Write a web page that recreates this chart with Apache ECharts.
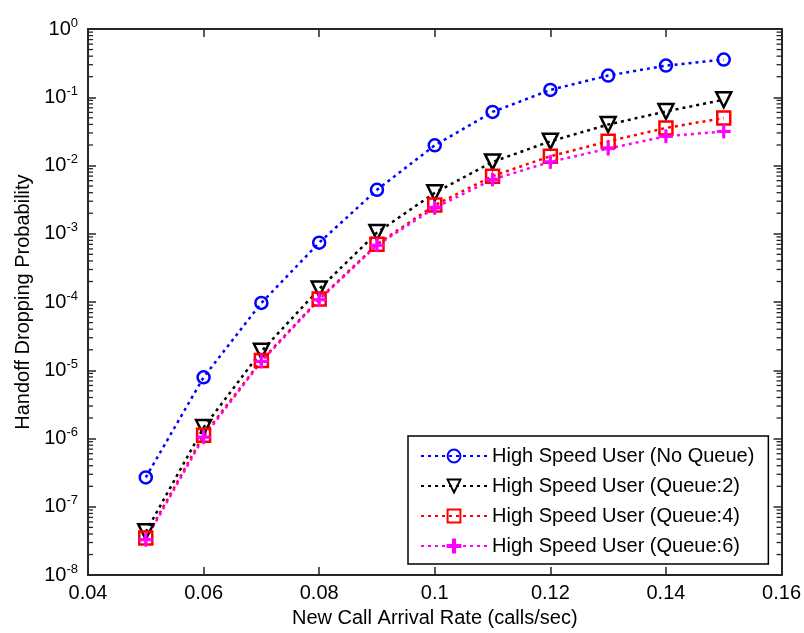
<!DOCTYPE html>
<html>
<head>
<meta charset="utf-8">
<script src="https://cdn.jsdelivr.net/npm/echarts@6/dist/echarts.min.js"></script>
<style>
  html, body { margin: 0; padding: 0; background: #fff; }
  #chart { width: 804px; height: 633px; }
</style>
</head>
<body>
<div id="chart"></div>
<script>
// arrival rate (calls/sec)
const arrivalRate = [0.05, 0.06, 0.07, 0.08, 0.09, 0.10, 0.11, 0.12, 0.13, 0.14, 0.15]

// handoff dropping probability
const noQueue = [2.7e-7, 7.9e-6, 9.7e-5, 7.4e-4, 4.4e-3, 0.0198, 0.061, 0.128, 0.208, 0.291, 0.356]
const queue2 = [4.3e-8, 1.45e-6, 1.9e-5, 1.55e-4, 1.04e-3, 3.98e-3, 0.0113, 0.0226, 0.0398, 0.062, 0.092]
const queue4 = [3.5e-8, 1.12e-6, 1.39e-5, 1.11e-4, 7.0e-4, 2.63e-3, 6.98e-3, 0.0137, 0.0226, 0.0355, 0.0497]
const queue6 = [3.3e-8, 1.05e-6, 1.35e-5, 1.08e-4, 6.8e-4, 2.4e-3, 6.25e-3, 0.0113, 0.0177, 0.0268, 0.0316]

const seriesNames = [
  'High Speed User (No Queue)',
  'High Speed User (Queue:2)',
  'High Speed User (Queue:4)',
  'High Speed User (Queue:6)'
]

// minor log ticks 2..9 in each decade
const minorTicks = []
for (let e = -8; e < 0; e++) {
  for (let m = 2; m <= 9; m++) minorTicks.push(m * Math.pow(10, e))
}

const axisColor = '#262626'
const font = 'Liberation Sans, Arial, sans-serif'
const plusPath = 'path://M5,0H7V5H12V7H7V12H5V7H0V5H5Z'

function pairs(ys) {
  return arrivalRate.map((x, i) => [x, ys[i]])
}

// hollow markers (line shows through), like matlab
function lineSeries(name, ys, color, symbol, size, rotate, filled) {
  return {
    name: name,
    type: 'line',
    data: pairs(ys),
    symbol: symbol,
    symbolSize: size,
    symbolRotate: rotate || 0,
    lineStyle: { color: color, width: 2.5, type: [3, 4] },
    itemStyle: filled
      ? { color: color, borderColor: color, borderWidth: 1 }
      : { color: 'rgba(0,0,0,0)', borderColor: color, borderWidth: 2.5 }
  }
}

const chart = echarts.init(document.getElementById('chart'))
chart.setOption({
  animation: false,
  backgroundColor: '#fff',
  textStyle: { fontFamily: font },
  grid: { left: 88, right: 21, top: 29, bottom: 56, containLabel: false },
  legend: {
    data: seriesNames,
    orient: 'vertical',
    left: 408,
    top: 436,
    padding: [10, 14, 8, 12],
    itemGap: 10,
    itemWidth: 66,
    itemHeight: 16,
    borderColor: '#000',
    borderWidth: 1.5,
    backgroundColor: '#fff',
    textStyle: { fontFamily: font, fontSize: 20, color: '#000', lineHeight: 20 }
  },
  xAxis: [
    {
      type: 'value',
      position: 'bottom',
      min: 0.04,
      max: 0.16,
      interval: 0.02,
      name: 'New Call Arrival Rate (calls/sec)',
      nameLocation: 'middle',
      nameGap: 31,
      nameTextStyle: { fontFamily: font, fontSize: 20, color: '#000' },
      axisLine: { lineStyle: { color: axisColor, width: 2 } },
      axisTick: { inside: true, length: 8, lineStyle: { color: axisColor, width: 1.5 } },
      axisLabel: {
        fontFamily: font, fontSize: 20, color: '#000', margin: 8,
        formatter: v => String(+v.toFixed(2))
      },
      splitLine: { show: false }
    },
    {
      type: 'value',
      position: 'top',
      min: 0.04,
      max: 0.16,
      interval: 0.02,
      axisLine: { lineStyle: { color: axisColor, width: 2 } },
      axisTick: { inside: true, length: 8, lineStyle: { color: axisColor, width: 1.5 } },
      axisLabel: { show: false },
      splitLine: { show: false }
    }
  ],
  yAxis: [
    {
      type: 'log',
      logBase: 10,
      position: 'left',
      min: 1e-8,
      max: 1,
      interval: 1,
      name: 'Handoff Dropping Probability',
      nameLocation: 'middle',
      nameGap: 55,
      nameTextStyle: { fontFamily: font, fontSize: 20, color: '#000' },
      axisLine: { lineStyle: { color: axisColor, width: 2 } },
      axisTick: { inside: true, length: 8, lineStyle: { color: axisColor, width: 1.5 } },
      axisLabel: {
        margin: 10,
        formatter: v => '{b|10}{s|' + Math.round(Math.log10(v)) + '}',
        rich: {
          b: { fontFamily: font, fontSize: 20, color: '#000' },
          s: { fontFamily: font, fontSize: 13, color: '#000', padding: [0, 0, 12, 0] }
        }
      },
      splitLine: { show: false }
    },
    {
      type: 'log',
      logBase: 10,
      position: 'right',
      min: 1e-8,
      max: 1,
      interval: 1,
      axisLine: { lineStyle: { color: axisColor, width: 2 } },
      axisTick: { inside: true, length: 8, lineStyle: { color: axisColor, width: 1.5 } },
      axisLabel: { show: false },
      splitLine: { show: false }
    }
  ],
  series: [
    {
      type: 'custom',
      silent: true,
      z: 1,
      data: minorTicks.map(v => [0.04, v]),
      renderItem: function (params, api) {
        const v = api.value(1)
        const l = api.coord([0.04, v])
        const r = api.coord([0.16, v])
        return {
          type: 'group',
          children: [
            { type: 'line', shape: { x1: l[0], y1: l[1], x2: l[0] + 5, y2: l[1] }, style: { stroke: axisColor, lineWidth: 1.3 } },
            { type: 'line', shape: { x1: r[0] - 5, y1: r[1], x2: r[0], y2: r[1] }, style: { stroke: axisColor, lineWidth: 1.3 } }
          ]
        }
      }
    },
    lineSeries(seriesNames[0], noQueue, '#0000ff', 'circle', 12),
    lineSeries(seriesNames[1], queue2, '#000000', 'triangle', 15, 180),
    lineSeries(seriesNames[2], queue4, '#ff0000', 'rect', 13),
    lineSeries(seriesNames[3], queue6, '#ff00ff', plusPath, 13, 0, true)
  ]
})
</script>
</body>
</html>
